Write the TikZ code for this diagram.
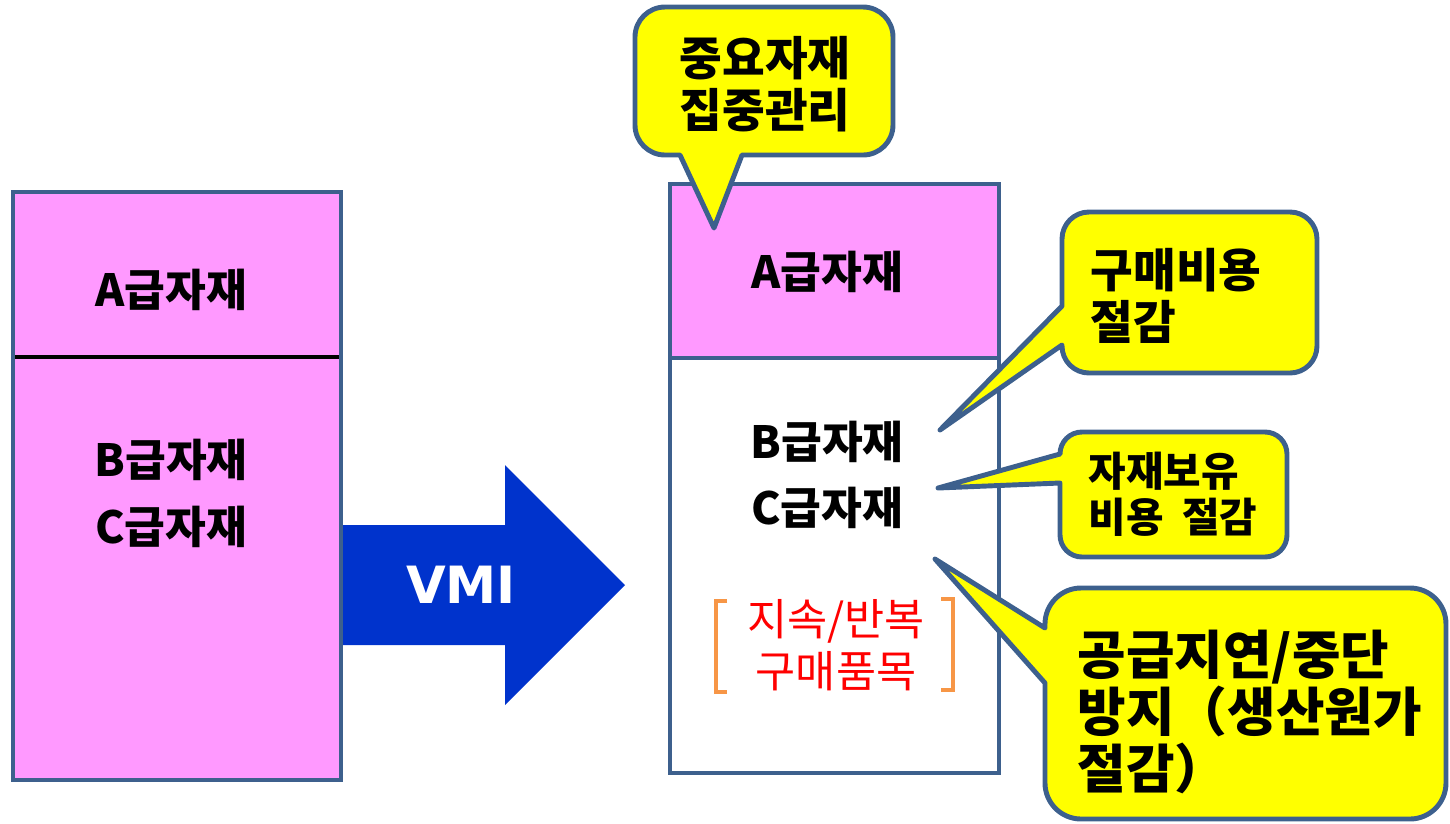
\documentclass[tikz,border=0pt]{standalone}
\usepackage{fontspec}
\setmainfont{Noto Sans CJK KR}
\newfontfamily\vmifont{DejaVu Sans}
\definecolor{edgeblue}{RGB}{61,96,141}
\definecolor{pinkfill}{RGB}{255,153,255}
\definecolor{arrowblue}{RGB}{0,51,204}
\definecolor{bracketorange}{RGB}{247,150,70}
\definecolor{callyellow}{RGB}{255,255,0}
\begin{document}
\begin{tikzpicture}[x=0.01cm,y=-0.01cm,
  boxline/.style={draw=edgeblue,line width=1.2pt},
  callout/.style={draw=edgeblue,line width=1.4pt,fill=callyellow,line join=round},
  lbl/.style={inner sep=0pt,font=\fontsize{12.6}{18.8}\selectfont\bfseries},
  redlbl/.style={inner sep=0pt,text=red,align=center,font=\fontsize{12.4}{14.8}\selectfont},
  bracket/.style={draw=bracketorange,line width=0.9pt},
]
\useasboundingbox (0,0) rectangle (1450,823);

% left box
\path[boxline,fill=pinkfill] (13,192) rectangle (341,780);
\draw[line width=1.4pt,black] (15,357) -- (339,357);
\node[lbl] (la) at (171,290) {A급자재};
\node[lbl] (lb) at (171,460) {B급자재};
\node[lbl] (lc) at (171,527) {C급자재};

% arrow
\fill[arrowblue] (343,525) -- (505,525) -- (505,465) -- (625,585) -- (505,705) -- (505,645) -- (343,645) -- cycle;
\node[inner sep=0pt,text=white,font=\vmifont\fontsize{14.6}{18}\selectfont\bfseries] (vmi) at (461,585) {VMI};

% right box
\path[fill=pinkfill] (670,184) rectangle (999,358);
\path[boxline] (670,184) rectangle (999,773);
\draw[boxline] (670,358) -- (999,358);
\node[lbl] (ra) at (827,272) {A급자재};
\node[lbl] (rb) at (827,442) {B급자재};
\node[lbl] (rc) at (827,508) {C급자재};
\node[redlbl] (rr) at (836,645) {지속/반복\\구매품목};
\draw[bracket] (727,601) -- (716,601) -- (716,692) -- (727,692);
\draw[bracket] (941,599) -- (953,599) -- (953,690) -- (941,690);

% callout 1
\draw[callout] (665,7) -- (863,7) arc[start angle=-90,end angle=0,radius=30]
  -- (893,125) arc[start angle=0,end angle=90,radius=30]
  -- (742,155) -- (714,228) -- (680,155)
  -- (665,155) arc[start angle=90,end angle=180,radius=30]
  -- (635,37) arc[start angle=180,end angle=270,radius=30] -- cycle;
\node[inner sep=0pt,align=center,font=\fontsize{13.2}{14.8}\selectfont\bfseries] (c1) at (765,84) {중요자재\\집중관리};

% callout 2
\draw[callout] (1089,212) -- (1290,212) arc[start angle=-90,end angle=0,radius=27]
  -- (1317,346) arc[start angle=0,end angle=90,radius=27]
  -- (1089,373) arc[start angle=90,end angle=180,radius=27]
  -- (1062,345) -- (940,430) -- (1062,306)
  -- (1062,239) arc[start angle=180,end angle=270,radius=27] -- cycle;
\node[inner sep=0pt,align=left,anchor=west,font=\fontsize{13.2}{14.8}\selectfont\bfseries] (c2) at (1090,296) {구매비용\\절감};

% callout 3
\draw[callout] (1082,432) -- (1265,432) arc[start angle=-90,end angle=0,radius=22]
  -- (1287,535) arc[start angle=0,end angle=90,radius=22]
  -- (1082,557) arc[start angle=90,end angle=180,radius=22]
  -- (1060,483) -- (938,488) -- (1060,454)
  arc[start angle=180,end angle=270,radius=22] -- cycle;
\node[inner sep=0pt,align=left,anchor=west,font=\fontsize{11.6}{13.1}\selectfont\bfseries] (c3) at (1088,494) {자재보유\\비용\ \ 절감};

% callout 4
\draw[callout] (1081,588) -- (1410,588) arc[start angle=-90,end angle=0,radius=36]
  -- (1446,783) arc[start angle=0,end angle=90,radius=36]
  -- (1081,819) arc[start angle=90,end angle=180,radius=36]
  -- (1045,683) -- (935,559) -- (1045,628)
  -- (1045,624) arc[start angle=180,end angle=270,radius=36] -- cycle;
\node[inner sep=0pt,align=left,anchor=west,font=\fontsize{15}{16.2}\selectfont\bfseries] (c4) at (1077,712) {공급지연/중단\\방지（생산원가\\절감）};
\end{tikzpicture}
\end{document}
